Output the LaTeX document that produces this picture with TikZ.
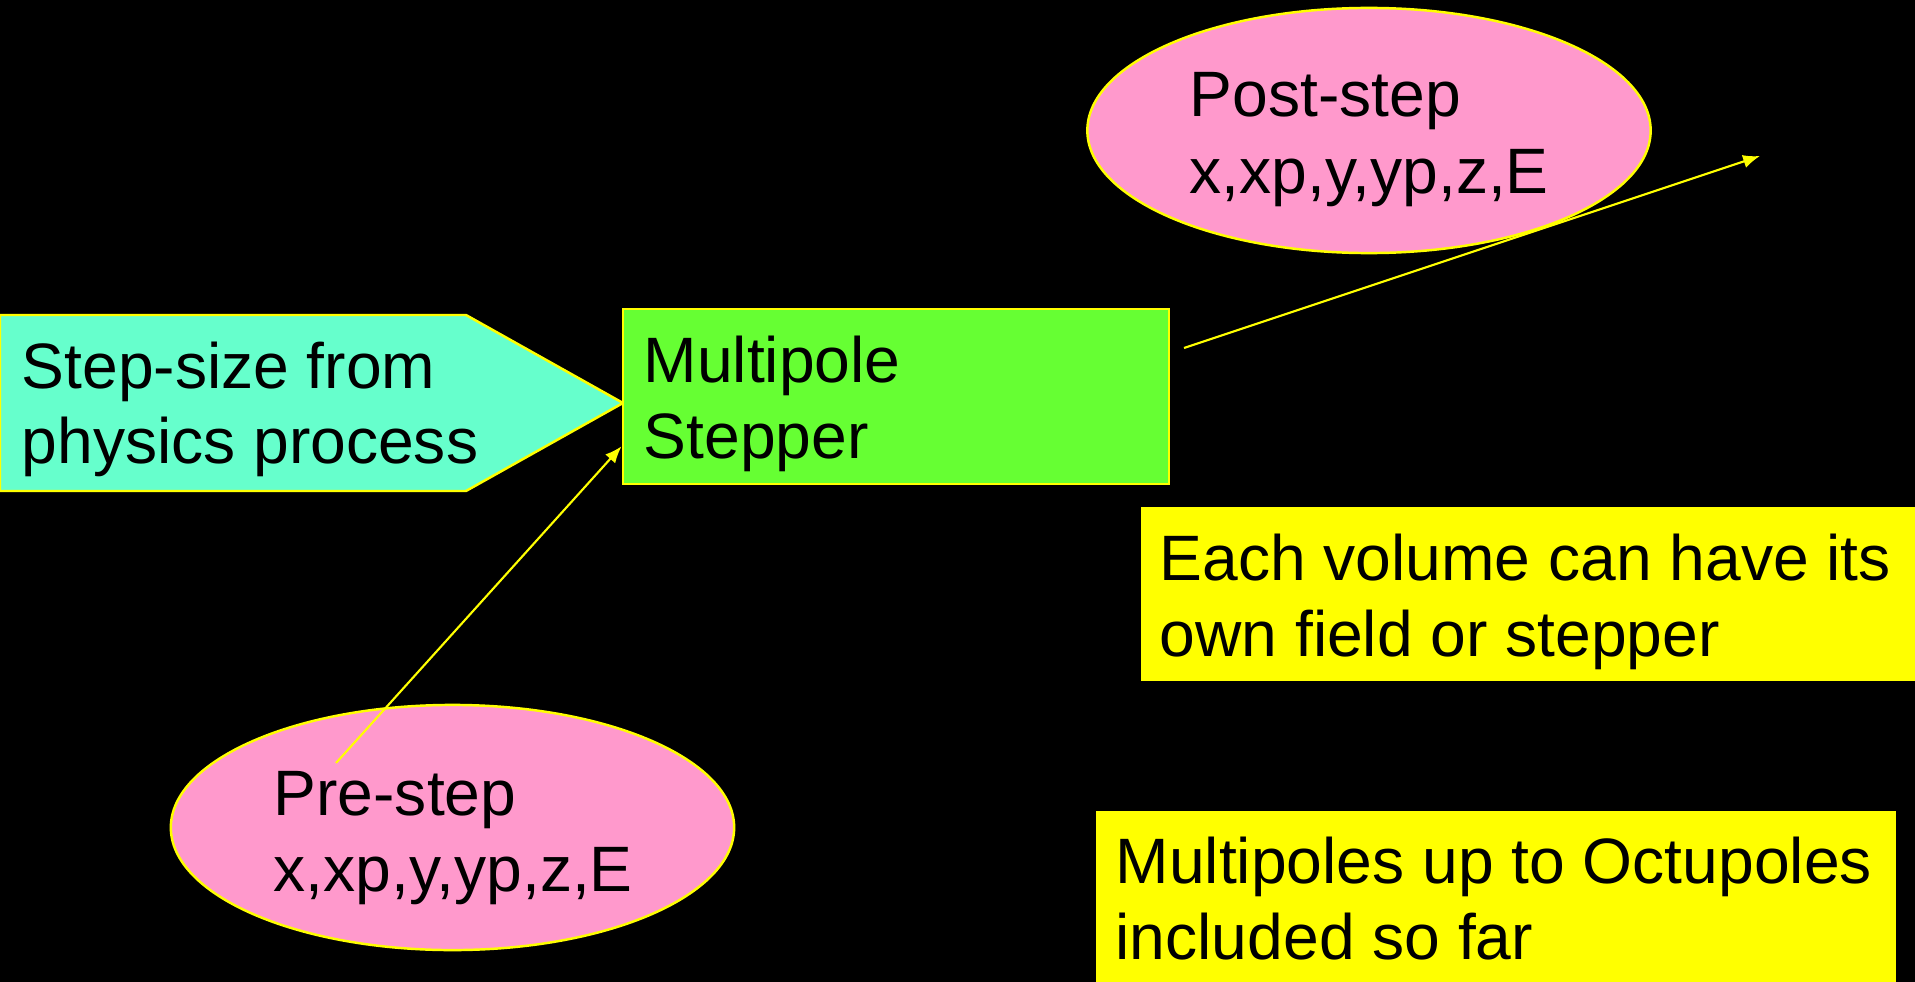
\documentclass[tikz,border=0pt]{standalone}
\usepackage{fontspec}
\setmainfont{Liberation Sans}
\usetikzlibrary{shapes}
\usetikzlibrary{arrows.meta}

\definecolor{stepcyan}{HTML}{66FFCC}
\definecolor{polegreen}{HTML}{66FF33}
\definecolor{steppink}{HTML}{FF99CC}
\definecolor{noteyellow}{HTML}{FFFF00}

\tikzset{
  txt/.style={anchor=base west, inner sep=0pt, text=black, font=\fontsize{18.25}{21.9}\selectfont},
  polebox/.style={rectangle, draw=noteyellow, line width=0.7pt, fill=polegreen, inner sep=0pt},
  phase/.style={ellipse, draw=noteyellow, line width=0.7pt, fill=steppink, inner sep=0pt,
                minimum width=5.63cm, minimum height=2.45cm},
  note/.style={rectangle, fill=noteyellow, inner sep=0pt},
  feed/.style={draw=noteyellow, line width=0.6pt, -{Latex[length=4.8pt,width=3.8pt]}}
}

\begin{document}
\begin{tikzpicture}[x=0.01cm, y=-0.01cm]
%background
\fill[black] (0,0) rectangle (1915,982);
\useasboundingbox (0,0) rectangle (1915,982);

%step size (pointer)
\draw[draw=noteyellow, line width=0.7pt, fill=stepcyan] (0,315) -- (466,315) -- (623,403) -- (466,491) -- (0,491) -- cycle;
\node[txt] (size1) at (21,388) {Step-size from};
\node[txt] (size2) at (21,463) {physics process};

%stepper
\node[polebox, minimum width=5.46cm, minimum height=1.75cm] (stepper) at (896,396.5) {};
\node[txt] (stepper1) at (643,382) {Multipole};
\node[txt] (stepper2) at (643,458) {Stepper};

%pre and post step
\node[phase] (post) at (1369,130.5) {};
\node[txt] (post1) at (1189,117) {Post-step};
\node[txt] (post2) at (1189,193) {x,xp,y,yp,z,E};

\node[phase] (pre) at (452.5,827.5) {};
\node[txt] (pre1) at (273,815) {Pre-step};
\node[txt] (pre2) at (273,891) {x,xp,y,yp,z,E};

%arrows
\coordinate (prefrom) at (336,763);
\coordinate (postfrom) at (1184,348);
\coordinate (postto) at (1760,156);
\draw[feed] (prefrom) -- ([yshift=0.39cm]stepper.south west);
\draw[feed] (postfrom) -- (postto);

%notes
\node[note, minimum width=7.74cm, minimum height=1.74cm] (volume) at (1528,594) {};
\node[txt] (volume1) at (1159,580) {Each volume can have its};
\node[txt] (volume2) at (1159,656) {own field or stepper};

\node[note, minimum width=8cm, minimum height=1.71cm] (octu) at (1496,896.5) {};
\node[txt] (octu1) at (1115,883) {Multipoles up to Octupoles};
\node[txt] (octu2) at (1115,959) {included so far};

\end{tikzpicture}
\end{document}
